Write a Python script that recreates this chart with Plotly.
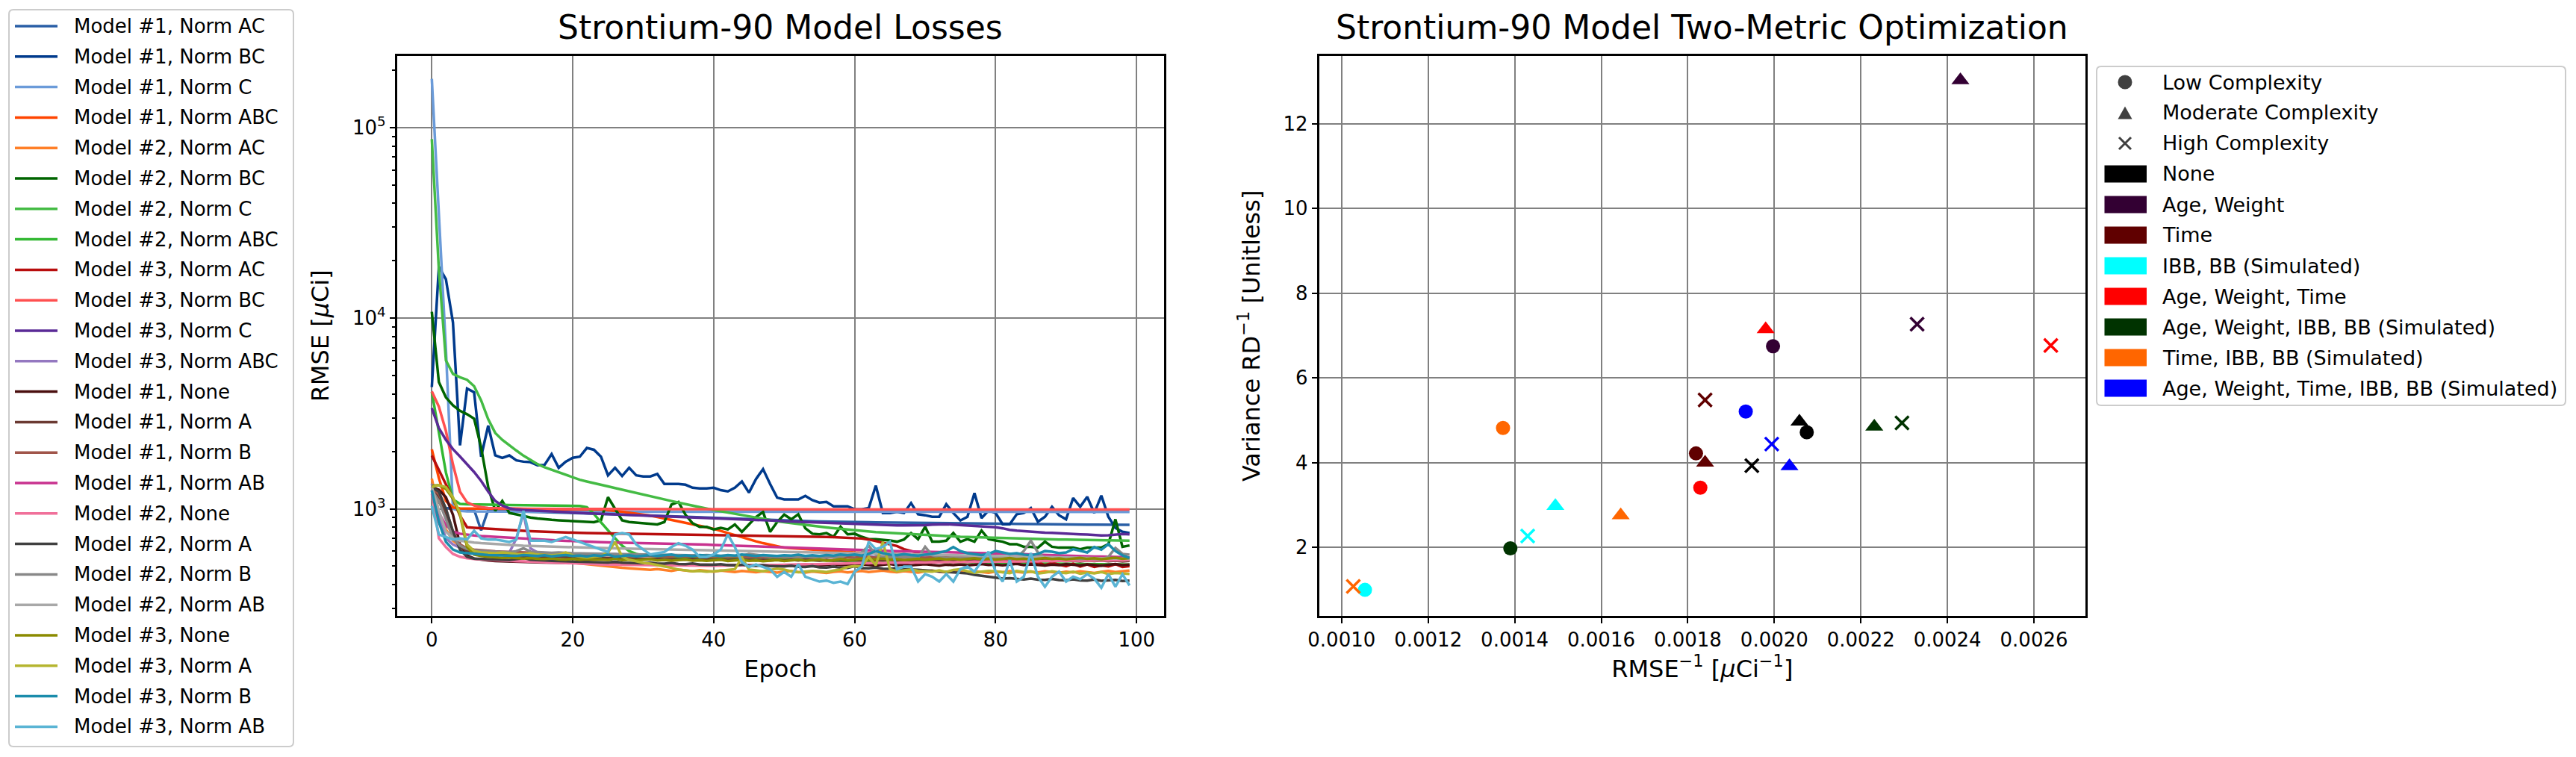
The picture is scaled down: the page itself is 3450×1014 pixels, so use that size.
import plotly.graph_objects as go

# ---------------- LEFT PANEL DATA (RMSE per epoch) ----------------
epochs = list(range(100))

series_names = [
    "Model #1, Norm AC", "Model #1, Norm BC", "Model #1, Norm C", "Model #1, Norm ABC",
    "Model #2, Norm AC", "Model #2, Norm BC", "Model #2, Norm C", "Model #2, Norm ABC",
    "Model #3, Norm AC", "Model #3, Norm BC", "Model #3, Norm C", "Model #3, Norm ABC",
    "Model #1, None", "Model #1, Norm A", "Model #1, Norm B", "Model #1, Norm AB",
    "Model #2, None", "Model #2, Norm A", "Model #2, Norm B", "Model #2, Norm AB",
    "Model #3, None", "Model #3, Norm A", "Model #3, Norm B", "Model #3, Norm AB",
]

series_colors = [
    "#2a5fa6", "#003a8c", "#6b9bd9", "#ff4500",
    "#ff7f27", "#006400", "#44bb44", "#33b833",
    "#b80d0d", "#ff5050", "#5a2a96", "#9478c0",
    "#4a0f0f", "#6b3a32", "#a0554a", "#c8328f",
    "#f0709a", "#404040", "#888888", "#a8a8a8",
    "#8b8b00", "#b5b52f", "#1a8cab", "#5ab4d4",
]

m1_norm_ac = [1300,1080,1010,1000,995,992,990,770,988,984,
              976,973,970,968,966,964,962,960,958,956,
              953,950,947,944,941,938,935,932,929,926,
              923,920,917,914,911,908,905,902,899,896,
              893,890,887,884,881,878,876,874,872,870,
              868,866,864,862,860,858,856,855,854,853,
              852,851,850,849,848,847,846,845,844,843,
              842,841,840,839,838,837,836,835,834,833,
              832,831,830,830,829,829,828,828,827,827,
              826,826,826,825,825,825,824,824,824,824]

m1_norm_bc = [4350,18600,16000,9500,2150,4270,4090,1876,2730,1906,
              1850,1906,1795,1767,1756,1690,1700,1935,1640,1767,
              1850,1876,2084,2040,1876,1498,1640,1485,1640,1498,
              1477,1477,1522,1349,1349,1349,1337,1290,1278,1278,
              1290,1252,1233,1290,1390,1215,1433,1615,1349,1144,
              1120,1120,1120,1169,1110,1078,1087,1030,1030,1030,
              994,994,1009,1323,950,950,964,950,1072,936,
              925,908,908,1056,950,868,908,1209,894,979,
              950,830,830,936,950,1009,855,908,1024,925,
              881,1138,1024,1156,950,1173,908,793,758,746]

m1_norm_c = [180000,37000,6900,1000,975,970,968,967,966,966,
             966,966,965,965,965,965,965,965,965,965,
             965,965,965,965,965,965,965,965,965,965,
             965,965,965,965,965,965,965,965,965,965,
             965,965,965,965,965,965,965,965,965,965,
             964,964,964,964,964,964,964,964,964,964,
             964,964,964,964,964,964,964,964,964,964,
             964,964,964,964,964,963,963,963,963,963,
             963,963,963,963,963,963,963,963,963,963,
             963,963,963,963,963,963,963,963,963,963]

m1_norm_abc = [2050,1450,1100,1015,1005,1003,1002,1001,1000,1000,
               1000,999,999,998,998,997,997,996,996,995,
               995,994,993,992,990,985,975,965,955,945,
               935,920,905,890,875,860,845,830,815,800,
               785,765,745,725,705,690,675,660,648,636,
               625,621,617,613,609,605,602,599,596,593,
               590,588,586,584,582,580,578,576,574,572,
               570,568,566,564,562,560,558,557,556,555,
               554,553,552,551,550,549,548,547,546,545,
               544,543,542,541,540,539,538,537,536,535]

m2_norm_ac = [1440,950,780,680,640,620,605,595,585,578,
              570,565,560,555,550,545,540,535,530,525,
              520,515,510,505,500,497,494,490,487,484,
              481,478,483,476,472,479,474,470,476,471,
              468,474,470,466,472,468,465,470,466,463,
              468,472,466,463,469,465,461,467,470,464,
              468,472,466,470,474,468,465,471,467,463,
              470,474,468,465,471,467,464,470,466,462,
              469,465,471,467,463,468,464,470,466,462,
              468,464,470,466,461,467,472,466,470,474]

m2_norm_bc = [10800,4620,3840,3490,3265,3135,2970,2100,1300,975,
              1100,950,935,915,900,890,880,875,870,865,
              860,855,852,850,870,1150,1000,870,852,845,
              840,832,828,852,1052,1085,930,840,803,803,
              779,795,779,827,756,827,905,962,756,852,
              933,881,936,790,740,735,746,713,805,735,
              740,713,693,693,690,682,672,690,746,693,
              805,672,672,680,746,672,693,672,769,693,
              682,672,652,652,632,632,625,672,632,625,
              625,625,614,625,625,625,652,881,632,642]

m2_norm_c = [87000,18000,6000,5100,4900,4750,4400,3700,2950,2500,
             2300,2150,2020,1900,1800,1715,1650,1600,1550,1500,
             1454,1420,1390,1360,1335,1310,1285,1260,1235,1205,
             1179,1158,1138,1118,1098,1078,1058,1040,1015,1000,
             985,970,955,940,926,912,899,886,873,860,
             850,840,831,822,814,806,798,791,784,777,
             770,765,760,755,751,747,743,739,735,731,
             728,725,722,719,716,713,711,709,707,705,
             703,701,699,697,695,694,693,692,691,690,
             689,688,687,686,685,684,683,682,681,680]

m2_norm_abc = [4100,2500,1550,1120,1060,1055,1052,1050,1050,1049,
               1048,1047,1046,1045,1044,1043,1042,1041,1040,1040,
               1039,1035,1020,940,850,770,700,640,600,580,
               570,566,563,560,558,556,554,552,551,550,
               549,548,547,546,545,544,543,542,541,540,
               539,538,537,536,535,534,533,532,531,530,
               530,529,529,528,528,527,527,526,526,525,
               525,524,524,523,523,522,522,521,521,520,
               520,519,519,518,518,517,517,516,516,515,
               515,514,514,513,513,512,512,511,511,510]

m3_norm_ac = [1900,1600,1350,1130,920,800,795,790,785,780,
              776,772,769,766,763,760,757,754,752,750,
              748,747,746,745,744,743,742,741,740,739,
              738,737,737,736,736,735,735,734,734,733,
              733,732,731,730,729,728,727,726,725,724,
              723,722,720,718,716,714,712,710,708,705,
              703,698,690,678,662,650,638,614,600,586,
              575,565,558,552,548,544,560,540,535,550,
              530,545,528,520,538,515,525,505,520,510,
              500,515,498,510,495,505,498,512,495,500]

m3_norm_bc = [4130,3435,2560,1710,1228,1080,1040,1020,1010,1006,
              1004,1003,1002,1001,1000,1000,999,999,998,998,
              998,998,997,997,997,997,996,996,996,996,
              996,995,995,995,995,995,995,994,994,994,
              994,994,994,994,993,993,993,993,993,993,
              993,993,993,993,993,992,992,992,992,992,
              992,992,992,992,992,992,992,992,992,992,
              991,991,991,991,991,991,991,991,991,991,
              991,991,991,991,991,991,991,991,991,991,
              990,990,990,990,990,990,990,990,990,990]

m3_norm_c = [3375,2650,2300,2055,1880,1720,1560,1400,1230,1100,
             1040,1005,990,985,980,976,972,968,964,960,
             956,952,948,945,942,939,936,933,930,927,
             924,921,918,915,912,909,906,903,900,897,
             894,891,888,885,882,879,876,873,870,865,
             860,857,854,851,848,845,842,839,836,833,
             830,828,826,824,822,820,819,818,817,816,
             820,825,828,830,826,822,818,814,810,806,
             800,790,775,768,762,758,752,750,748,746,
             744,740,735,732,728,724,726,730,738,735]

m3_norm_abc = [1350,900,700,650,625,612,605,600,596,592,
               590,588,700,950,620,590,585,583,581,580,
               579,578,580,576,575,574,578,572,571,570,
               574,569,568,567,571,566,565,569,564,563,
               567,562,561,565,560,559,563,558,557,561,
               556,560,555,559,554,558,556,560,555,558,
               556,560,565,558,555,560,556,559,555,562,
               556,558,554,560,555,557,553,559,554,556,
               552,558,553,555,551,557,552,554,550,556,
               551,553,549,555,550,552,548,554,550,552]

m1_none = [1300,1260,1150,930,650,570,548,540,536,532,
           530,528,527,526,525,524,523,522,521,520,
           519,518,517,517,516,516,515,515,514,514,
           513,513,512,512,511,511,510,510,509,509,
           508,508,507,507,506,506,505,505,504,504,
           506,503,508,505,510,504,507,512,506,509,
           505,511,507,504,509,513,506,510,505,508,
           512,507,503,509,506,511,505,508,513,507,
           510,505,509,514,506,511,507,504,510,506,
           512,508,505,511,507,503,509,513,506,510]

m1_norm_a = [1250,1150,950,720,630,600,590,585,580,577,
             575,572,570,568,566,564,562,560,559,558,
             557,556,555,554,553,552,551,550,549,548,
             547,549,545,547,543,546,542,545,541,544,
             540,543,539,542,538,541,537,540,536,539,
             535,540,536,541,537,535,539,534,538,536,
             540,535,538,534,537,541,535,538,534,537,
             533,537,535,539,534,536,532,537,534,538,
             533,536,532,535,531,536,533,537,532,535,
             531,534,530,535,532,536,531,534,530,533]

m1_norm_b = [1280,1200,1000,760,650,620,610,605,600,598,
             596,594,592,590,588,586,584,582,580,578,
             577,576,575,574,573,572,571,570,569,568,
             567,570,565,568,563,567,562,566,561,565,
             560,564,559,563,558,562,557,561,556,560,
             555,560,556,562,557,555,560,554,559,556,
             561,555,558,554,557,562,555,558,554,557,
             553,557,555,560,554,556,552,557,554,558,
             553,556,552,555,551,556,553,557,552,555,
             551,554,550,555,552,556,551,554,550,553]

m1_norm_ab = [1200,950,820,760,740,730,725,720,716,712,
              708,704,700,697,694,691,688,685,682,679,
              676,674,672,670,668,667,666,665,664,663,
              662,661,660,659,658,656,654,652,650,648,
              646,644,642,640,638,636,634,632,630,628,
              626,624,622,620,618,616,614,612,610,608,
              606,605,604,603,602,601,600,599,598,597,
              596,595,594,593,592,591,590,589,588,587,
              586,584,582,580,578,576,574,572,570,568,
              566,565,564,563,562,561,560,559,558,557]

m2_none = [1250,700,630,580,560,550,545,542,540,538,
           535,533,531,529,527,525,523,521,519,517,
           515,514,513,512,511,510,509,508,508,507,
           507,506,506,505,505,504,504,503,503,503,
           503,503,504,504,505,505,506,506,507,507,
           508,510,509,512,511,514,513,516,515,518,
           517,520,518,521,519,522,520,523,521,524,
           522,525,523,526,524,527,525,528,526,529,
           527,530,528,531,529,532,530,533,531,534,
           532,535,533,536,534,537,535,538,536,539]

m2_norm_a = [1300,1230,1000,760,610,560,548,545,543,541,
             540,538,545,552,540,536,535,533,532,530,
             529,528,530,526,525,523,528,521,520,519,
             518,522,516,515,520,513,512,516,510,509,
             508,512,506,505,509,503,502,506,500,499,
             498,503,496,495,500,493,492,497,490,489,
             500,488,487,492,485,484,489,482,481,478,
             475,472,470,467,465,462,458,450,445,440,
             435,430,432,428,426,430,425,424,428,423,
             422,426,421,420,425,419,420,424,418,420]

m2_norm_b = [1250,1100,880,700,640,615,605,600,598,596,
             594,592,600,620,596,592,590,588,590,586,
             585,584,583,582,585,580,579,578,577,580,
             576,575,574,573,575,572,571,570,569,572,
             568,567,566,565,568,580,575,566,563,562,
             561,560,562,559,558,557,560,556,555,575,
             570,590,640,575,560,558,556,560,555,554,
             632,570,556,553,555,552,551,554,550,549,
             560,552,548,555,600,680,590,552,548,547,
             550,546,545,548,544,543,560,623,580,575]

m2_norm_ab = [1300,980,760,700,680,670,665,660,656,652,
              648,645,642,640,638,636,634,632,630,628,
              626,625,624,623,622,621,620,619,618,617,
              616,615,614,613,612,611,610,609,608,607,
              606,605,604,603,602,601,600,599,598,597,
              596,595,594,593,592,591,590,589,588,587,
              586,585,584,583,582,581,580,579,578,577,
              576,575,574,573,572,571,570,569,568,567,
              566,565,564,563,562,561,560,559,558,557,
              556,555,554,553,552,551,550,549,548,547]

m3_none = [1320,1330,1270,1130,930,630,575,565,560,556,
           553,555,550,548,552,546,545,549,543,542,
           546,541,544,540,543,539,548,538,541,537,
           540,544,536,539,535,538,542,534,537,533,
           536,540,532,535,539,533,536,531,534,538,
           532,535,540,533,536,541,534,537,545,538,
           541,546,539,543,548,541,544,538,542,547,
           540,544,549,542,546,540,545,550,543,547,
           541,546,551,544,548,542,547,552,545,549,
           543,548,553,546,550,544,549,554,547,552]

m3_norm_a = [1300,1330,1300,1150,950,650,600,590,588,585,
             590,583,580,578,585,575,572,570,574,590,
             570,560,555,560,565,590,670,560,540,530,
             520,515,505,498,490,480,475,470,472,468,
             470,474,478,482,555,480,475,470,478,485,
             480,470,465,468,472,470,466,474,480,495,
             500,498,560,505,671,482,470,475,480,472,
             470,468,475,466,478,482,470,462,468,472,
             470,465,460,472,466,470,458,462,470,464,
             460,468,456,462,458,466,454,460,458,455]

m3_norm_b = [1250,850,670,611,590,585,580,575,572,570,
             568,570,566,572,568,565,570,563,568,572,
             565,568,562,570,566,575,560,565,570,563,
             567,572,565,568,575,566,570,564,572,568,
             570,565,572,568,575,570,566,572,568,565,
             570,568,574,566,570,565,572,568,575,570,
             575,568,580,600,585,575,570,578,572,568,
             575,580,590,600,630,600,585,578,572,580,
             600,590,580,585,575,570,580,600,595,585,
             590,614,600,590,630,610,652,600,570,552]

m3_norm_ab = [1036,733,711,690,700,690,767,700,690,690,
              680,670,690,976,680,680,680,670,690,711,
              690,670,650,630,611,593,733,745,733,650,
              611,576,585,593,630,660,640,611,559,559,
              576,611,733,630,526,495,510,495,481,439,
              466,440,512,440,427,415,420,409,415,403,
              468,497,672,614,632,672,482,497,497,415,
              454,440,415,454,415,482,497,468,530,595,
              468,415,537,415,440,586,440,390,440,468,
              415,440,427,454,430,385,454,390,454,396]

series_values = [
    m1_norm_ac, m1_norm_bc, m1_norm_c, m1_norm_abc,
    m2_norm_ac, m2_norm_bc, m2_norm_c, m2_norm_abc,
    m3_norm_ac, m3_norm_bc, m3_norm_c, m3_norm_abc,
    m1_none, m1_norm_a, m1_norm_b, m1_norm_ab,
    m2_none, m2_norm_a, m2_norm_b, m2_norm_ab,
    m3_none, m3_norm_a, m3_norm_b, m3_norm_ab,
]

# ---------------- RIGHT PANEL DATA (two-metric optimisation) ----------------
categories = ["None", "Age, Weight", "Time", "IBB, BB (Simulated)", "Age, Weight, Time",
              "Age, Weight, IBB, BB (Simulated)", "Time, IBB, BB (Simulated)",
              "Age, Weight, Time, IBB, BB (Simulated)"]
category_colors = ["#000000", "#330033", "#600000", "#00ffff", "#ff0000",
                   "#003300", "#ff6600", "#0000ff"]
complexities = ["Low Complexity", "Moderate Complexity", "High Complexity"]

low_x = [0.002075, 0.001997, 0.001819, 0.001054, 0.001829, 0.001390, 0.001373, 0.001934]
low_y = [4.72, 6.75, 4.22, 1.00, 3.41, 1.98, 4.82, 5.21]
mod_x = [0.002058, 0.002430, 0.001840, 0.001494, 0.001980, 0.002231, 0.001645, 0.002035]
mod_y = [4.97, 13.03, 4.00, 2.98, 7.15, 4.85, 2.76, 3.92]
high_x = [0.001948, 0.002330, 0.001840, 0.001430, 0.002639, 0.002295, 0.001027, 0.001994]
high_y = [3.93, 7.27, 5.48, 2.27, 6.77, 4.94, 1.08, 4.44]

# ---------------- FIGURE ----------------
W, H = 3450, 1014
FONT = "DejaVu Sans"


def px(x):
    return x / W


def py(y):
    return 1 - y / H


def rounded_box(x0, y0, x1, y1, r=6):
    """Rounded rectangle path (pixel coords in, paper coords out)."""
    return (f"M {px(x0 + r)},{py(y0)} L {px(x1 - r)},{py(y0)} "
            f"Q {px(x1)},{py(y0)} {px(x1)},{py(y0 + r)} "
            f"L {px(x1)},{py(y1 - r)} Q {px(x1)},{py(y1)} {px(x1 - r)},{py(y1)} "
            f"L {px(x0 + r)},{py(y1)} Q {px(x0)},{py(y1)} {px(x0)},{py(y1 - r)} "
            f"L {px(x0)},{py(y0 + r)} Q {px(x0)},{py(y0)} {px(x0 + r)},{py(y0)} Z")


fig = go.Figure()

for name, color, vals in zip(series_names, series_colors, series_values):
    fig.add_trace(go.Scatter(
        x=epochs, y=vals, mode="lines", name=name, showlegend=False,
        line=dict(color=color, width=3.5),
        xaxis="x", yaxis="y",
    ))

marker_specs = [
    (low_x, low_y, "circle", 19),
    (mod_x, mod_y, "triangle-up", 21),
    (high_x, high_y, "x-thin", 18),
]
for (xs, ys, sym, size), cname in zip(marker_specs, complexities):
    fig.add_trace(go.Scatter(
        x=xs, y=ys, mode="markers", name=cname, showlegend=False,
        marker=dict(symbol=sym, size=size, color=category_colors,
                    line=dict(color=category_colors, width=3.5 if sym == "x-thin" else 0)),
        xaxis="x2", yaxis="y2",
    ))

axis_common = dict(
    showgrid=True, gridcolor="#808080", gridwidth=2,
    showline=True, linecolor="black", linewidth=2.5, mirror=True,
    ticks="outside", ticklen=7, tickwidth=2, tickcolor="black",
    tickfont=dict(size=26, family=FONT, color="black"),
    zeroline=False, automargin=False,
)

minor_vals = []
for dec in (100, 1000, 10000, 100000):
    for k in range(2, 10):
        minor_vals.append(k * dec)

dom_y = [1 - 825 / H, 1 - 74.6 / H]

fig.update_layout(
    width=W, height=H,
    margin=dict(l=0, r=0, t=0, b=0),
    paper_bgcolor="white", plot_bgcolor="white",
    font=dict(family=FONT, color="black"),
    showlegend=False,
    xaxis=dict(
        domain=[531.6 / W, 1559 / W], range=[-4.95, 103.9], anchor="y",
        tickvals=[0, 20, 40, 60, 80, 100],
        title=dict(text="Epoch", font=dict(size=32, family=FONT), standoff=14),
        **axis_common,
    ),
    yaxis=dict(
        domain=dom_y, type="log", range=[2.438, 5.377], anchor="x",
        tickvals=[1000, 10000, 100000],
        ticktext=["10<sup>3</sup>", "10<sup>4</sup>", "10<sup>5</sup>"],
        minor=dict(tickvals=minor_vals, ticks="outside", ticklen=4, tickwidth=1.5,
                   tickcolor="black", showgrid=False),
        title=dict(text="RMSE [<i>μ</i>Ci]", font=dict(size=32, family=FONT), standoff=22),
        **axis_common,
    ),
    xaxis2=dict(
        domain=[1766.6 / W, 2793 / W], range=[0.0009479, 0.002719], anchor="y2",
        tick0=0.001, dtick=0.0002, tickformat=".4f",
        title=dict(text="RMSE<sup>−1</sup> [<i>μ</i>Ci<sup>−1</sup>]",
                   font=dict(size=32, family=FONT), standoff=14),
        **axis_common,
    ),
    yaxis2=dict(
        domain=dom_y, range=[0.385, 13.608], anchor="x2",
        tick0=0, dtick=2,
        title=dict(text="Variance RD<sup>−1</sup> [Unitless]",
                   font=dict(size=32, family=FONT), standoff=22),
        **axis_common,
    ),
)

# Subplot titles
annotations = [
    dict(text="Strontium-90 Model Losses", x=(531.6 + 1559) / 2 / W, y=py(37),
         xref="paper", yref="paper", xanchor="center", yanchor="middle",
         showarrow=False, font=dict(size=44, family=FONT, color="black")),
    dict(text="Strontium-90 Model Two-Metric Optimization", x=(1766.6 + 2793) / 2 / W, y=py(37),
         xref="paper", yref="paper", xanchor="center", yanchor="middle",
         showarrow=False, font=dict(size=44, family=FONT, color="black")),
]
shapes = []

# ---- Legend for the left panel (line samples + labels) ----
shapes.append(dict(type="path", xref="paper", yref="paper", path=rounded_box(12, 13, 393, 1000),
                   line=dict(color="#cccccc", width=2), fillcolor="white", layer="below"))
L_row0, L_step = 35, 40.8
for i, (name, color) in enumerate(zip(series_names, series_colors)):
    cy = L_row0 + i * L_step
    shapes.append(dict(type="line", xref="paper", yref="paper",
                       x0=px(20), x1=px(77), y0=py(cy), y1=py(cy),
                       line=dict(color=color, width=3.5)))
    annotations.append(dict(text=name, x=px(97), y=py(cy), xref="paper", yref="paper",
                            xanchor="left", yanchor="middle", showarrow=False,
                            font=dict(size=26, family=FONT, color="black")))

# ---- Legend for the right panel (marker shapes + colour patches) ----
shapes.append(dict(type="path", xref="paper", yref="paper", path=rounded_box(2808, 89, 3436, 543),
                   line=dict(color="#cccccc", width=2), fillcolor="white", layer="below"))
row_y0, row_step = 110, 41
sym_x = 2846
text_x = 2894
legend_labels = complexities + categories
gray = "#404040"
for r, label in enumerate(legend_labels):
    cy = row_y0 + r * row_step
    if r == 0:
        shapes.append(dict(type="circle", xref="paper", yref="paper",
                           x0=px(sym_x - 9.5), x1=px(sym_x + 9.5), y0=py(cy + 9.5), y1=py(cy - 9.5),
                           fillcolor=gray, line=dict(width=0)))
    elif r == 1:
        path = (f"M {px(sym_x - 9.5)},{py(cy + 8.5)} L {px(sym_x + 9.5)},{py(cy + 8.5)} "
                f"L {px(sym_x)},{py(cy - 8.5)} Z")
        shapes.append(dict(type="path", xref="paper", yref="paper", path=path,
                           fillcolor=gray, line=dict(width=0)))
    elif r == 2:
        path = (f"M {px(sym_x - 8)},{py(cy - 8)} L {px(sym_x + 8)},{py(cy + 8)} "
                f"M {px(sym_x - 8)},{py(cy + 8)} L {px(sym_x + 8)},{py(cy - 8)}")
        shapes.append(dict(type="path", xref="paper", yref="paper", path=path,
                           line=dict(color=gray, width=3)))
    else:
        col = category_colors[r - 3]
        shapes.append(dict(type="rect", xref="paper", yref="paper",
                           x0=px(2818.5), x1=px(2875), y0=py(cy + 11.5), y1=py(cy - 11.5),
                           fillcolor=col, line=dict(width=0)))
    annotations.append(dict(text=label, x=px(text_x), y=py(cy), xref="paper", yref="paper",
                            xanchor="left", yanchor="middle", showarrow=False,
                            font=dict(size=27, family=FONT, color="black")))

fig.update_layout(annotations=annotations, shapes=shapes)

fig.write_html("out.html")
